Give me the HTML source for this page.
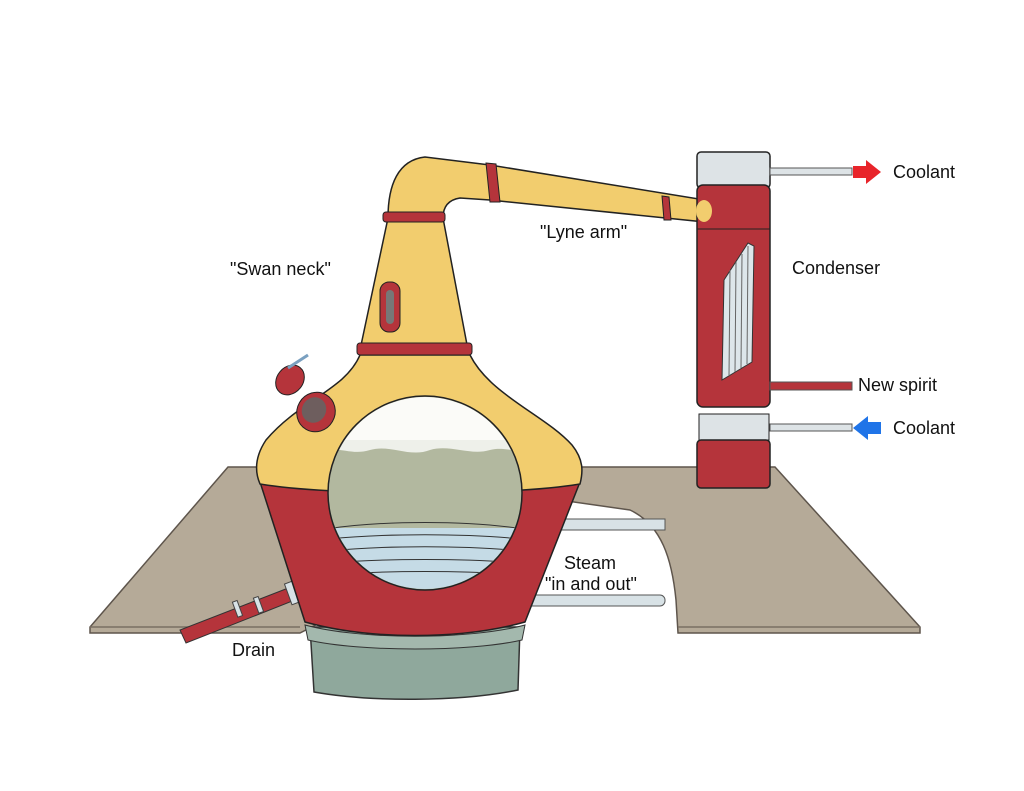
<!DOCTYPE html>
<html><head><meta charset="utf-8"><style>body{margin:0;background:#fff}svg{display:block}text{font-family:"Liberation Sans",sans-serif;font-size:18px;fill:#111}</style></head><body>
<svg width="1024" height="791" viewBox="0 0 1024 791">
<!-- platform -->
<path d="M228,467 L775,467 L920,627 L920,633 L678,633 L676,600 C672,560 662,525 630,510 L560,500 L520,520 L300,633 L90,633 L90,627 Z" fill="#b5aa98" stroke="#5e554c" stroke-width="1.5"/>
<path d="M90,627 L300,627 M678,627 L920,627" stroke="#7a6f63" stroke-width="1.5"/>
<!-- steam pipes -->
<rect x="515" y="519" width="150" height="11" fill="#d8e2e6" stroke="#555" stroke-width="1"/>
<rect x="488" y="595" width="177" height="11" rx="5" fill="#d8e2e6" stroke="#555" stroke-width="1"/>
<!-- drain -->
<path d="M296,585 L180,630 L186,643 L300,598 Z" fill="#b5343b" stroke="#333" stroke-width="1"/>
<rect x="288" y="582" width="8" height="22" fill="#d8e2e6" stroke="#444" transform="rotate(-20 292 593)"/>
<rect x="256" y="597" width="5" height="16" fill="#d8e2e6" stroke="#444" transform="rotate(-20 258 605)"/>
<rect x="235" y="601" width="5" height="16" fill="#d8e2e6" stroke="#444" transform="rotate(-20 237 609)"/>
<!-- base -->
<path d="M310,627 L520,627 L518,690 C460,702 370,702 314,692 Z" fill="#8fa89c" stroke="#333" stroke-width="1.5"/>
<path d="M305,625 C360,640 470,640 525,625 L522,640 C470,652 360,652 308,640 Z" fill="#a3b8ad" stroke="#333" stroke-width="1"/>
<!-- red lower body -->
<path d="M260,482 C330,494 510,494 580,482 L525,622 C460,640 370,640 305,622 Z" fill="#b5343b" stroke="#222" stroke-width="1.5"/>
<!-- yellow gourd -->
<path d="M360,355 L470,355 C490,395 545,415 572,445 C584,460 583,472 580,484 C510,496 330,496 260,484 C254,470 256,455 266,440 C300,400 345,390 360,355 Z" fill="#f2cd6e" stroke="#222" stroke-width="1.5"/>
<!-- neck -->
<path d="M388,218 L443,218 L468,350 L360,350 Z" fill="#f2cd6e" stroke="#222" stroke-width="1.5"/>
<!-- swan bend + lyne arm -->
<path d="M388,218 C388,185 398,160 425,157 L490,165 L705,200 L705,222 L490,200 L460,198 C447,200 443,208 443,218 Z" fill="#f2cd6e" stroke="#222" stroke-width="1.5"/>
<!-- bands -->
<rect x="383" y="212" width="62" height="10" rx="3" fill="#b5343b" stroke="#222"/>
<rect x="357" y="343" width="115" height="12" rx="3" fill="#b5343b" stroke="#222"/>
<path d="M486,163 L496,164 L500,202 L490,202 Z" fill="#b5343b" stroke="#222"/>
<path d="M662,196 L669,197 L671,220 L664,220 Z" fill="#b5343b" stroke="#222"/>
<rect x="380" y="282" width="20" height="50" rx="9" fill="#b5343b" stroke="#222"/>
<rect x="386" y="290" width="8" height="34" rx="4" fill="#777"/>
<!-- manhole -->
<ellipse cx="290" cy="380" rx="13" ry="16" fill="#b5343b" stroke="#222" transform="rotate(40 290 380)"/>
<line x1="288" y1="368" x2="308" y2="355" stroke="#7aa0c0" stroke-width="3"/>
<ellipse cx="316" cy="412" rx="19" ry="20" fill="#b5343b" stroke="#222" transform="rotate(30 316 412)"/>
<ellipse cx="314" cy="410" rx="12" ry="13" fill="#6e5e5e" transform="rotate(30 314 410)"/>
<!-- window -->
<defs><clipPath id="w"><circle cx="425" cy="493" r="96"/></clipPath></defs>
<circle cx="425" cy="493" r="97" fill="#b2b89f" stroke="#222" stroke-width="1.5"/>
<g clip-path="url(#w)">
<path d="M320,397 L530,397 L530,440 C515,446 500,436 485,442 C470,436 455,446 440,440 C425,446 410,436 395,442 C380,436 365,446 350,440 C340,446 330,440 320,444 Z" fill="#fbfbf8"/>
<path d="M320,452 C340,445 350,456 370,450 C390,444 410,458 430,450 C450,444 470,456 490,450 C505,446 520,454 530,450 L530,440 L320,440 Z" fill="#eef0ea"/>
<rect x="320" y="528" width="210" height="70" fill="#c5dbe6"/>
<g stroke="#333" stroke-width="1" fill="none">
<path d="M320,530 C380,520 470,520 530,530"/><path d="M320,540 C380,533 470,533 530,540"/><path d="M320,552 C380,545 470,545 530,552"/><path d="M320,564 C380,558 470,558 530,564"/><path d="M320,576 C380,570 470,570 530,576"/></g>
</g>
<!-- condenser -->
<rect x="697" y="152" width="73" height="36" rx="4" fill="#dde3e6" stroke="#222" stroke-width="1.5"/>
<rect x="697" y="185" width="73" height="222" rx="6" fill="#b5343b" stroke="#222" stroke-width="1.5"/>
<line x1="697" y1="229" x2="770" y2="229" stroke="#222"/>
<ellipse cx="704" cy="211" rx="8" ry="11" fill="#f2cd6e"/>
<path d="M748,243 L754,246 L752,362 L722,380 L724,280 Z" fill="#dde6ea" stroke="#333"/>
<g stroke="#666" stroke-width="1"><line x1="730" y1="270" x2="729" y2="376"/><line x1="736" y1="262" x2="735" y2="372"/><line x1="742" y1="254" x2="741" y2="368"/><line x1="748" y1="246" x2="747" y2="364"/></g>
<rect x="699" y="414" width="70" height="26" fill="#dde3e6" stroke="#222"/>
<rect x="697" y="440" width="73" height="48" rx="4" fill="#b5343b" stroke="#222" stroke-width="1.5"/>
<!-- pipes -->
<rect x="770" y="168" width="82" height="7" fill="#dde3e6" stroke="#555"/>
<rect x="770" y="382" width="82" height="8" fill="#b5343b" stroke="#555"/>
<rect x="770" y="424" width="82" height="7" fill="#dde3e6" stroke="#555"/>
<path d="M853,166 L866,166 L866,160 L881,172 L866,184 L866,178 L853,178 Z" fill="#e8242a"/>
<path d="M881,422 L868,422 L868,416 L853,428 L868,440 L868,434 L881,434 Z" fill="#1f74e8"/>
<!-- labels -->
<text x="893" y="178">Coolant</text>
<text x="792" y="274">Condenser</text>
<text x="858" y="391">New spirit</text>
<text x="893" y="434">Coolant</text>
<text x="540" y="238">"Lyne arm"</text>
<text x="230" y="275">"Swan neck"</text>
<text x="564" y="569">Steam</text>
<text x="545" y="590">"in and out"</text>
<text x="232" y="656">Drain</text>
</svg>
</body></html>
